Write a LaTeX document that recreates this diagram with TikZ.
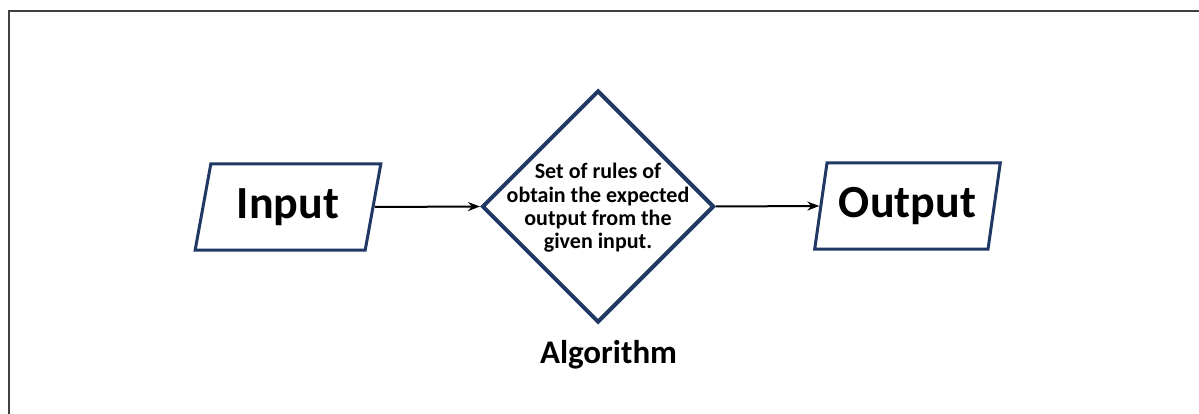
\documentclass[tikz,border=0pt]{standalone}
\usepackage{fontspec}
\setmainfont{Carlito}
\usetikzlibrary{shapes.geometric,arrows.meta}
\definecolor{navy}{HTML}{1F3864}
\definecolor{frame}{HTML}{404040}
\tikzset{
  io/.style={trapezium, trapezium left angle=74.4, trapezium right angle=105.6,
    trapezium stretches=true, draw=navy, line width=3pt, fill=white,
    minimum width=186pt, minimum height=86pt, inner sep=0pt,
    font=\fontsize{46}{50}\selectfont\bfseries},
  dec/.style={diamond, draw=navy, line width=4pt, fill=white,
    minimum width=232pt, minimum height=232pt, inner sep=0pt},
  conn/.style={draw=black, line width=2pt, -{Stealth[length=12pt,width=9pt]}},
  dtext/.style={align=center, inner sep=0pt,
    font=\fontsize{22}{23.4}\selectfont\bfseries},
  lbl/.style={inner sep=0pt, font=\fontsize{33}{36}\selectfont\bfseries}
}
\begin{document}
\begin{tikzpicture}[x=1pt,y=-1pt]
\useasboundingbox (0,0) rectangle (1199,414);
\draw[frame, line width=2pt] (8.5,414) -- (8.5,11.5) -- (1199,11.5);
\node[io] (in) at (288,207) {Input};
\node[dec] (alg) at (598,206.5) {};
\node[dtext] (algtxt) at (598,208) {Set of rules of\\obtain the expected\\output from the\\given input.};
\node[io] (out) at (907.5,206) {Output};
\node[lbl] (algname) at (608.5,355) {Algorithm};
\draw[conn] (in.east) -- (alg.west);
\draw[conn] (alg.east) -- (out.west);
\end{tikzpicture}
\end{document}
